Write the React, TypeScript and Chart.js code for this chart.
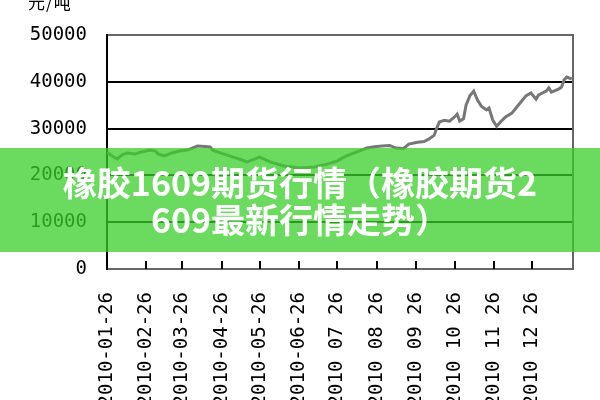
import React, { useEffect, useRef } from "react";
import { Chart, registerables } from "chart.js";

Chart.register(...registerables);

const dayOffsets = [0,4,8,12,16,22,27,34,38,40,45,51,57,63,67,71,77,81,83,89,94,99,104,110,120,128,139,151,163,173,181,186,192,198,204,210,216,222,227,233,237,244,249,253,257,259,261,265,269,273,275,277,280,282,285,288,291,294,298,300,303,306,309,313,318,323,329,333,337,339,345,347,349,355,357,359,361,365];
const prices = [25000,24150,23500,24400,24800,24600,25000,25400,25200,24600,24150,24800,25200,25400,25850,26300,26200,26100,25400,24800,24400,23900,23500,22900,23900,22900,22000,21600,21800,22400,23100,23900,24600,25200,25850,26100,26300,26400,25850,25750,26700,27100,27250,27800,28600,30100,31400,31800,31600,32500,33100,31600,32100,35000,37000,38000,36100,34800,34000,34400,31800,30500,31400,32500,33300,35000,37000,37600,36300,37200,38000,38700,37800,38500,38900,40400,41000,40600];

const tickDays = [0,31,59,90,120,151,181,212,243,273,304,334];
const tickLabels = ["2010-01-26","2010-02-26","2010-03-26","2010-04-26","2010-05-26","2010-06-26","2010 07 26","2010 08 26","2010 09 26","2010 10 26","2010 11 26","2010 12 26"];
const yTicks = [0,10000,20000,30000,40000,50000];

const unitLabel = "元/吨";
const bannerLines = ["橡胶1609期货行情（橡胶期货2", "609最新行情走势）"];

const tickMarksPlugin = {
  id: "tickMarks",
  afterDraw(chart: any) {
    const { ctx, chartArea, scales } = chart;
    const x = scales.x;
    ctx.save();
    ctx.strokeStyle = "#000";
    ctx.lineWidth = 2;
    tickDays.forEach((d) => {
      const px = Math.round(x.getPixelForValue(d));
      ctx.beginPath();
      ctx.moveTo(px, chartArea.bottom - 8);
      ctx.lineTo(px, chartArea.bottom);
      ctx.stroke();
    });
    ctx.strokeStyle = "#666";
    ctx.beginPath();
    ctx.moveTo(chartArea.right, chartArea.top - 1);
    ctx.lineTo(chartArea.right, chartArea.bottom + 1);
    ctx.stroke();
    ctx.restore();
  },
};

export default function App() {
  const ref = useRef<HTMLCanvasElement>(null);
  useEffect(() => {
    if (!ref.current) return;
    const font = { family: "DejaVu Sans Mono", size: 19 };
    const chart = new Chart(ref.current, {
      type: "line",
      data: {
        datasets: [
          {
            data: dayOffsets.map((d, i) => ({ x: d, y: prices[i] })),
            borderColor: "#777",
            borderWidth: 3,
            pointRadius: 0,
            tension: 0,
          },
        ],
      },
      options: {
        animation: false,
        responsive: false,
        plugins: { legend: { display: false }, tooltip: { enabled: false } },
        layout: { padding: { top: 35, right: 27, left: 0, bottom: 0 } },
        scales: {
          x: {
            type: "linear",
            min: 0,
            max: 366,
            afterBuildTicks: (scale: any) => {
              scale.ticks = tickDays.map((v) => ({ value: v }));
            },
            afterFit: (scale: any) => {
              scale.height = 131;
            },
            ticks: {
              autoSkip: false,
              maxRotation: 90,
              minRotation: 90,
              padding: 15,
              color: "#000",
              font,
              callback: (v: any) => {
                const i = tickDays.indexOf(Number(v));
                return i >= 0 ? tickLabels[i] : "";
              },
            },
            grid: { display: false },
            border: { display: true, color: "#666", width: 2 },
          },
          y: {
            min: 0,
            max: 50000,
            afterBuildTicks: (scale: any) => {
              scale.ticks = yTicks.map((v) => ({ value: v }));
            },
            afterFit: (scale: any) => {
              scale.width = 107;
            },
            ticks: {
              padding: 20,
              color: "#000",
              font,
              callback: (v: any) => String(v),
            },
            grid: {
              drawTicks: false,
              lineWidth: 2,
              color: (c: any) =>
                c.tick && (c.tick.value === 50000 || c.tick.value === 0) ? "#666" : "#000",
            },
            border: { display: true, color: "#000", width: 2 },
          },
        },
      },
      plugins: [tickMarksPlugin],
    } as any);
    return () => chart.destroy();
  }, []);

  return (
    <div style={{ position: "fixed", left: 0, top: 0, width: 600, height: 400, overflow: "hidden", background: "#fff" }}>
      <canvas ref={ref} width={600} height={400} style={{ position: "absolute", left: 0, top: 0 }} />
      <div
        style={{
          position: "absolute",
          left: 28,
          top: -8,
          fontFamily: "'Noto Sans CJK SC'",
          fontSize: 17,
          lineHeight: "20px",
          color: "#000",
          letterSpacing: 1,
        }}
      >
        {unitLabel}
      </div>
      <div
        style={{
          position: "absolute",
          left: 0,
          top: 148,
          width: 600,
          height: 104,
          background: "rgba(57,207,41,0.75)",
          display: "flex",
          flexDirection: "column",
          justifyContent: "center",
          alignItems: "center",
          color: "#fff",
          fontFamily: "'Noto Sans CJK SC'",
          fontWeight: 700,
          fontSize: 34,
          lineHeight: "37px",
        }}
      >
        {bannerLines.map((l, i) => (
          <span key={i} style={{ display: "block", whiteSpace: "nowrap" }}>{l}</span>
        ))}
      </div>
    </div>
  );
}
